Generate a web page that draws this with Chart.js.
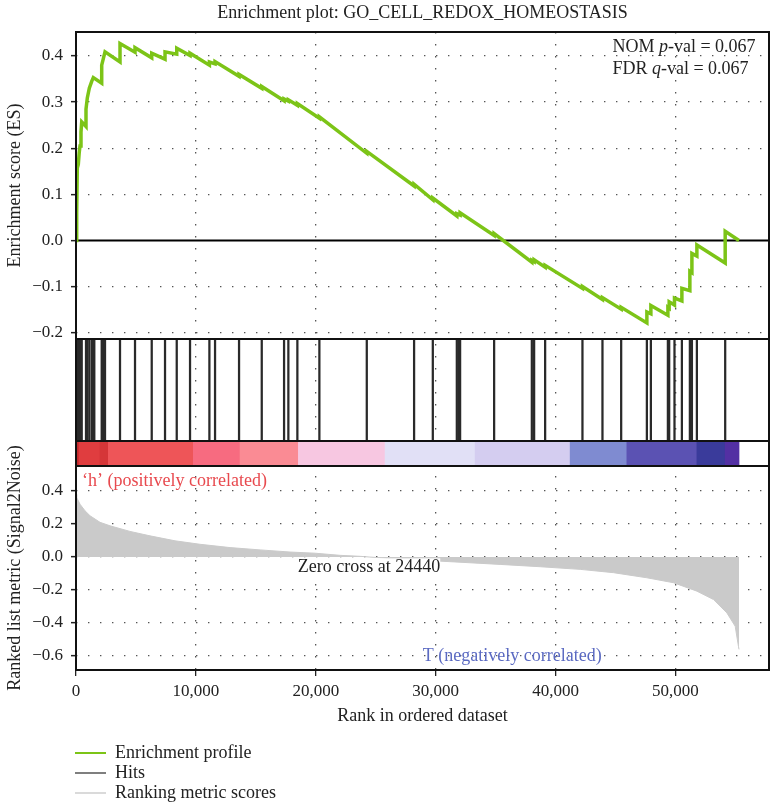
<!DOCTYPE html>
<html>
<head>
<meta charset="utf-8">
<script src="https://cdn.jsdelivr.net/npm/chart.js@4.4.1/dist/chart.umd.min.js"></script>
<style>
html,body{margin:0;padding:0;background:#fff;}
#wrap{position:relative;width:773px;height:808px;overflow:hidden;}
#c{position:absolute;left:0;top:0;}
.lg{position:absolute;left:75px;font:18px "Liberation Serif",serif;color:#222;height:20px;line-height:20px;white-space:nowrap;}
.lg i{display:inline-block;width:31px;height:2px;vertical-align:middle;margin-right:9px;position:relative;top:-1px;}
</style>
</head>
<body>
<div id="wrap">
<canvas id="c" width="773" height="808"></canvas>
<div class="lg" style="top:742px"><i style="background:#7cc417"></i>Enrichment profile</div>
<div class="lg" style="top:762px"><i style="background:#7f7f7f"></i>Hits</div>
<div class="lg" style="top:782px"><i style="background:#dadada"></i>Ranking metric scores</div>
</div>
<script>
// ---------------- data ----------------
const chartTitle = 'Enrichment plot: GO_CELL_REDOX_HOMEOSTASIS';
const nomPval = '0.067';
const fdrQval = '0.067';
const zeroCross = 24440;

// tick labels
const xTickValues = [0, 10000, 20000, 30000, 40000, 50000];
const esTickValues = [-0.2, -0.1, 0.0, 0.1, 0.2, 0.3, 0.4];
const metricTickValues = [-0.6, -0.4, -0.2, 0.0, 0.2, 0.4];

// running enrichment score (rank, ES)
const esRanks = [0, 58, 108, 192, 267, 334, 417, 476, 834, 834, 943, 1110, 1310, 1443, 2144, 2144, 2420,
  3671, 3671, 4922, 4922, 6316, 6316, 7425, 7425, 8402, 8402, 9511, 9511, 11126, 11126, 11597, 11597,
  13599, 13599, 15493, 15493, 17354, 17354, 17712, 17712, 18463, 18463, 20299, 20299, 24253, 24253,
  28199, 28199, 29760, 29760, 31762, 31762, 32037, 32037, 34874, 34874, 38019, 38019, 38211, 38211,
  39129, 39129, 42241, 42241, 43910, 43910, 45470, 45470, 47614, 47614, 47948, 47948, 49366, 49366,
  49475, 49475, 49917, 49917, 50534, 50534, 51200, 51200, 51370, 51370, 51785, 51785, 54146, 54146, 55300];
const esValues = [0, 0.06, 0.157, 0.165, 0.19, 0.205, 0.235, 0.257, 0.247, 0.285, 0.309, 0.33, 0.345, 0.353, 0.341, 0.38, 0.409,
  0.387, 0.427, 0.408, 0.418, 0.396, 0.406, 0.393, 0.409, 0.404, 0.417, 0.401, 0.406, 0.38, 0.387, 0.383, 0.388,
  0.356, 0.36, 0.33, 0.334, 0.303, 0.307, 0.302, 0.305, 0.293, 0.297, 0.265, 0.268, 0.189, 0.193,
  0.118, 0.122, 0.088, 0.092, 0.053, 0.058, 0.055, 0.06, 0.011, 0.015, -0.047, -0.043, -0.046, -0.042,
  -0.058, -0.054, -0.104, -0.1, -0.128, -0.124, -0.149, -0.145, -0.179, -0.155, -0.159, -0.141, -0.162, -0.145,
  -0.147, -0.133, -0.14, -0.125, -0.131, -0.104, -0.109, -0.067, -0.07, -0.028, -0.034, -0.01, -0.049, 0.02, 0.0];

// positions of gene-set members in the ranked list
const hitRanks = [58, 125, 192, 267, 334, 417, 476, 834, 943, 1110, 1310, 1418, 1527, 2144, 2253, 2420,
  3671, 4922, 6316, 7425, 8402, 9511, 11126, 11597, 13599, 15493, 17354, 17712, 18463, 20299, 24253,
  28199, 29760, 31762, 31912, 32037, 34874, 38019, 38211, 39129, 42241, 43910, 45470, 47614, 47948,
  49366, 49475, 49917, 50534, 51200, 51370, 51785, 54146];

// ranked list metric (Signal2Noise)
const metricRanks = [0, 58, 334, 751, 1168, 2002, 2837, 4505, 6174, 8260, 10345, 12848, 15351, 17854, 19940,
  22026, 23695, 24440, 27000, 30093, 35375, 38712, 42049, 44827, 47614, 49833, 51786, 53170, 54289, 54981, 55256, 55300];
const metricValues = [0.38, 0.36, 0.32, 0.28, 0.25, 0.21, 0.189, 0.155, 0.128, 0.098, 0.077, 0.057, 0.043, 0.03, 0.023,
  0.01, 0.004, 0, -0.012, -0.024, -0.045, -0.059, -0.075, -0.095, -0.126, -0.156, -0.207, -0.258, -0.339, -0.42, -0.543, -0.56];

// colour bar bands along the ranked list
const bandEdges = [0, 250, 2000, 2695, 9786, 13683, 18547, 25780, 33289, 41215, 45945, 51786, 54146, 55300];
const bandColors = ['#c2292c', '#e03d3f', '#d53638', '#ee5558', '#f76b80', '#fa8b94', '#f7c7e1',
  '#e1e0f6', '#d4cdf0', '#7f8bd1', '#5b52b3', '#3a3b9b', '#5330a3'];

// ---------------- chart ----------------
const FONT = '"Liberation Serif", "Times New Roman", serif';
Chart.defaults.font.family = FONT;
Chart.defaults.color = '#222';
const DOT = [1.4, 10.6];
const GRID = '#555';

const esPoints = esRanks.map((r, i) => ({x: r, y: esValues[i]}));
const hitPoints = hitRanks.map(r => ({x: r, y: 1}));
const metricPoints = metricRanks.map((r, i) => ({x: r, y: metricValues[i]}));
const bandPoints = bandColors.map((c, i) => ({x: [bandEdges[i], bandEdges[i + 1]], y: 'cb'}));

const fmt1 = v => (Math.abs(v) < 1e-9 ? '0.0' : v.toFixed(1).replace('-', '\u2212'));
const fitY = s => { s.width = 76; };
const setTicks = vals => s => { s.ticks = vals.map(v => ({value: v})); };

const underlay = {
  id: 'underlay',
  beforeDatasetsDraw(chart) {
    const {ctx, chartArea: a, scales} = chart;
    const y0 = scales.yES.getPixelForValue(0);
    ctx.save();
    ctx.strokeStyle = '#000';
    ctx.lineWidth = 2;
    ctx.beginPath(); ctx.moveTo(a.left, y0); ctx.lineTo(a.right, y0); ctx.stroke();
    ctx.restore();
  }
};

function richText(ctx, parts, x, y) {
  let cx = x;
  parts.forEach(([t, it]) => {
    ctx.font = (it ? 'italic ' : '') + '18px ' + FONT;
    ctx.fillText(t, cx, y);
    cx += ctx.measureText(t).width;
  });
}

const overlay = {
  id: 'overlay',
  afterDatasetsDraw(chart) {
    const {ctx, chartArea: a, scales} = chart;
    ctx.save();
    ctx.strokeStyle = '#111';
    ctx.lineWidth = 2;
    ['yES', 'yHits', 'yBar', 'yMetric'].forEach(id => {
      const s = scales[id];
      ctx.strokeRect(a.left, s.top, a.right - a.left, s.bottom - s.top);
    });
    ctx.restore();

    const {x, yES, yMetric} = scales;
    ctx.save();
    ctx.textBaseline = 'middle';
    ctx.textAlign = 'left';
    ctx.fillStyle = '#222';
    const sx = x.getPixelForValue(44740);
    richText(ctx, [['NOM ', false], ['p', true], ['-val = ' + nomPval, false]], sx, yES.getPixelForValue(0.4185));
    richText(ctx, [['FDR ', false], ['q', true], ['-val = ' + fdrQval, false]], sx, yES.getPixelForValue(0.371));

    ctx.font = '18px ' + FONT;
    ctx.fillStyle = '#e84a4f';
    ctx.fillText('\u2018h\u2019 (positively correlated)', x.getPixelForValue(500), yMetric.getPixelForValue(0.462));

    const zt = 'Zero cross at ' + zeroCross;
    const zw = ctx.measureText(zt).width;
    const zx = x.getPixelForValue(zeroCross);
    const zy = yMetric.getPixelForValue(-0.063);
    ctx.fillStyle = '#fff';
    ctx.fillRect(zx - zw / 2, zy - 9, zw, 19);
    ctx.fillStyle = '#222';
    ctx.textAlign = 'center';
    ctx.fillText(zt, zx, zy);

    ctx.fillStyle = '#5b6ac2';
    ctx.fillText('T (negatively correlated)', x.getPixelForValue(36380), yMetric.getPixelForValue(-0.6));
    ctx.restore();
  }
};

new Chart(document.getElementById('c'), {
  type: 'line',
  data: {
    datasets: [
      {type: 'line', label: 'Enrichment profile', data: esPoints, xAxisID: 'x', yAxisID: 'yES',
       borderColor: '#7cc417', borderWidth: 3.5, pointRadius: 0, tension: 0, fill: false},
      {type: 'bar', label: 'Hits', data: hitPoints, xAxisID: 'x', yAxisID: 'yHits',
       backgroundColor: '#2a2a2a', borderWidth: 0, barThickness: 1.6},
      {type: 'bar', label: 'bands', indexAxis: 'y', data: bandPoints, xAxisID: 'x', yAxisID: 'yBar',
       backgroundColor: bandColors, borderWidth: 0, barPercentage: 1, categoryPercentage: 1, grouped: false},
      {type: 'line', label: 'Ranking metric scores', data: metricPoints, xAxisID: 'x', yAxisID: 'yMetric',
       borderColor: '#cacaca', backgroundColor: '#cacaca', borderWidth: 1, pointRadius: 0, fill: 'origin', tension: 0}
    ]
  },
  options: {
    responsive: false,
    animation: false,
    devicePixelRatio: 1,
    layout: {padding: {left: 0, right: 4, top: 0, bottom: 76}},
    plugins: {
      legend: {display: false},
      tooltip: {enabled: false},
      title: {display: true, text: chartTitle, fullSize: false, color: '#222',
              font: {size: 18, weight: 'normal'}, padding: {top: 2, bottom: 8.4}}
    },
    scales: {
      x: {type: 'linear', min: 0, max: 57800, offset: false,
          afterBuildTicks: setTicks(xTickValues),
          ticks: {padding: 5, font: {size: 17}, maxRotation: 0, minRotation: 0, autoSkip: false,
                  callback: v => v.toLocaleString('en-US')},
          grid: {offset: false, color: GRID, lineWidth: 1.3, tickLength: 6, tickColor: '#222', tickWidth: 1.3, tickBorderDash: []},
          border: {display: false, dash: DOT},
          title: {display: true, text: 'Rank in ordered dataset', font: {size: 18}, padding: {top: 0, bottom: 5}},
          afterFit: s => { s.height = 62; }},
      yES: {type: 'linear', position: 'left', stack: 'gsea', stackWeight: 307, weight: 4,
            min: -0.2137, max: 0.452,
            afterBuildTicks: setTicks(esTickValues),
            ticks: {padding: 8, font: {size: 17}, callback: fmt1, autoSkip: false},
            grid: {color: c => (c.tick && Math.abs(c.tick.value) < 1e-9 ? 'rgba(0,0,0,0)' : GRID),
                   lineWidth: 1.3, tickLength: 5, tickColor: '#222', tickWidth: 1.5, tickBorderDash: []},
            border: {display: false, dash: DOT},
            title: {display: true, text: 'Enrichment score (ES)', font: {size: 18}, padding: {top: 4, bottom: 0}},
            afterFit: fitY},
      yHits: {type: 'linear', position: 'left', stack: 'gsea', stackWeight: 102, weight: 3, min: 0, max: 1,
              ticks: {display: false}, grid: {display: false}, border: {display: false}, afterFit: fitY},
      yBar: {type: 'category', labels: ['cb'], offset: true, position: 'left', stack: 'gsea', stackWeight: 25, weight: 2,
             ticks: {display: false}, grid: {display: false}, border: {display: false}, afterFit: fitY},
      yMetric: {type: 'linear', position: 'left', stack: 'gsea', stackWeight: 204, weight: 1,
                min: -0.685, max: 0.5515,
                afterBuildTicks: setTicks(metricTickValues),
                ticks: {padding: 8, font: {size: 17}, callback: fmt1, autoSkip: false},
                grid: {color: GRID, lineWidth: 1.3, tickLength: 5, tickColor: '#222', tickWidth: 1.5, tickBorderDash: []},
                border: {display: false, dash: DOT},
                title: {display: true, text: 'Ranked list metric (Signal2Noise)', font: {size: 18}, padding: {top: 4, bottom: 0}},
                afterFit: fitY}
    }
  },
  plugins: [underlay, overlay]
});
</script>
</body>
</html>
